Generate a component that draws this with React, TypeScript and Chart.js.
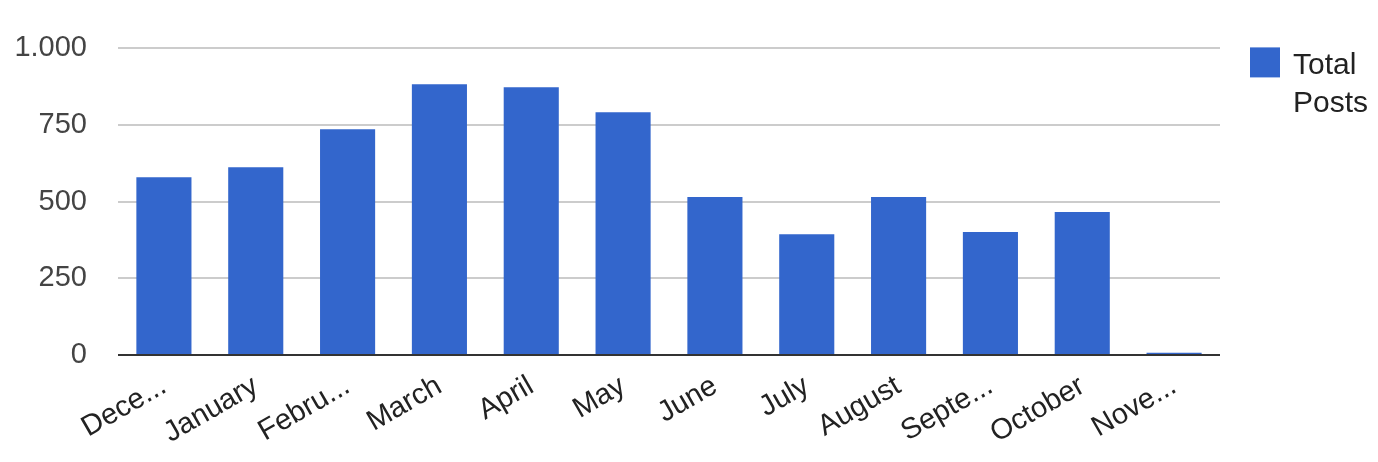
import React, { useEffect, useRef } from "react";
import { Chart, registerables } from "chart.js";

Chart.register(...registerables);

const categories = [
  "Dece...",
  "January",
  "Febru...",
  "March",
  "April",
  "May",
  "June",
  "July",
  "August",
  "Septe...",
  "October",
  "Nove...",
];
const totalPosts = [580, 612, 736, 883, 873, 792, 515, 394, 515, 401, 466, 7];
const yTickValues = [0, 250, 500, 750, 1000];
const yTickLabels = ["0", "250", "500", "750", "1.000"];
const seriesName = ["Total", "Posts"];

const FONT = "'Liberation Sans', Arial, sans-serif";
const BLUE = "#3366cc";

const legendPlugin = {
  id: "customLegend",
  afterDraw(chart: any) {
    const ctx = chart.ctx;
    const area = chart.chartArea;
    ctx.save();
    const x0 = area.right + 30;
    const y0 = area.top - 1;
    ctx.fillStyle = BLUE;
    ctx.fillRect(x0, y0, 30, 30);
    ctx.fillStyle = "#222222";
    ctx.font = `30px ${FONT}`;
    ctx.textAlign = "left";
    ctx.textBaseline = "alphabetic";
    seriesName.forEach((line, i) => {
      ctx.fillText(line, x0 + 43, y0 + 27 + i * 38);
    });
    ctx.restore();
  },
};

export default function App() {
  const ref = useRef<HTMLCanvasElement | null>(null);
  useEffect(() => {
    if (!ref.current) return;
    const chart = new Chart(ref.current, {
      type: "bar",
      data: {
        labels: categories,
        datasets: [
          {
            label: seriesName.join(" "),
            data: totalPosts,
            backgroundColor: BLUE,
            borderWidth: 0,
            barPercentage: 0.6,
            categoryPercentage: 1,
          },
        ],
      },
      plugins: [legendPlugin],
      options: {
        responsive: false,
        animation: false,
        layout: { padding: { top: 48, right: 158, left: 0, bottom: 0 } },
        plugins: {
          legend: { display: false },
          tooltip: { enabled: false },
        },
        scales: {
          x: {
            grid: { display: false, drawTicks: false },
            border: { display: false },
            ticks: {
              minRotation: 30,
              maxRotation: 30,
              autoSkip: false,
              padding: 14,
              color: "#222222",
              font: { family: FONT, size: 29 },
            },
            afterFit: (s: any) => {
              s.height = 107;
            },
          },
          y: {
            min: 0,
            max: 1000,
            afterBuildTicks: (s: any) => {
              s.ticks = yTickValues.map((v) => ({ value: v }));
            },
            grid: {
              drawTicks: false,
              lineWidth: 2,
              color: (c: any) => (c.tick && c.tick.value === 0 ? "#333333" : "#cccccc"),
            },
            border: { display: false },
            ticks: {
              padding: 31,
              color: "#444444",
              font: { family: FONT, size: 29 },
              callback: (v: any) => {
                const i = yTickValues.indexOf(Number(v));
                return i >= 0 ? yTickLabels[i] : "";
              },
            },
            afterFit: (s: any) => {
              s.width = 118;
            },
          },
        },
      },
    });
    return () => chart.destroy();
  }, []);
  return (
    <div style={{ position: "fixed", left: 0, top: 0, width: 1378, height: 462, background: "#fff" }}>
      <canvas ref={ref} width={1378} height={462} />
    </div>
  );
}
